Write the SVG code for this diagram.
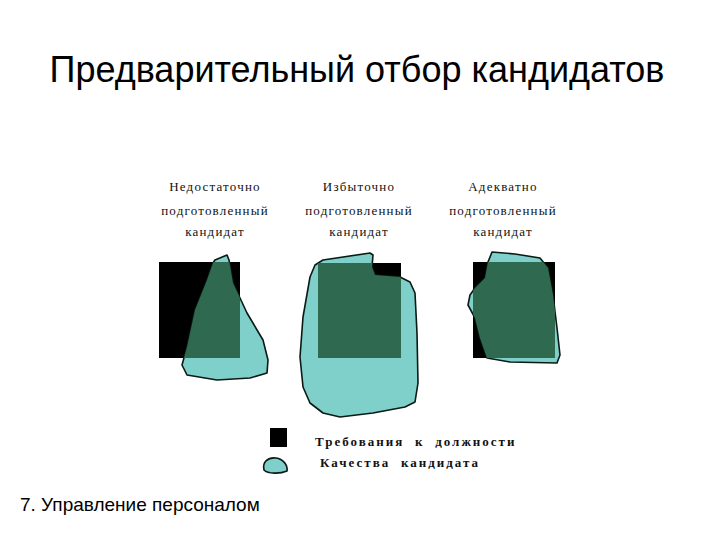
<svg xmlns="http://www.w3.org/2000/svg" width="720" height="540" viewBox="0 0 720 540">
<style>
.title{font-family:"Liberation Sans",Arial,sans-serif;font-size:36px;fill:#000}
.foot{font-family:"Liberation Sans",Arial,sans-serif;font-size:19px;fill:#000}
.lbl{font-family:"Liberation Serif","Times New Roman",serif;font-size:13px;fill:#111;letter-spacing:1.2px;text-anchor:middle}
.leg{font-family:"Liberation Serif","Times New Roman",serif;font-size:13px;fill:#111;letter-spacing:2px;word-spacing:5.5px}
.req{fill:#000}
.blob{fill:#7fcfca;stroke:#0a1a14;stroke-width:1.6;stroke-linejoin:round}
.ovl{fill:#2f6a50}
</style>
<defs>
<path id="b1" d="M215,260 L227,255 L229,260 L233,283 L247,313 L263,340 L268,360 L267,373 L250,378 L217,380 L187,375 L182,365 L187,347 L195,310 L207,280 L213,263 Z"/>
<path id="b2" d="M323,260 L370,253 L373,255 L372,267 L375,275 L400,277 L410,282 L415,293 L417,333 L418,383 L415,402 L405,407 L373,413 L340,417 L323,413 L310,403 L303,387 L300,357 L303,317 L310,277 L315,265 Z"/>
<path id="b3" d="M492,252 L515,254 L540,258 L548,268 L553,295 L557,328 L560,355 L557,363 L510,362 L487,358 L480,338 L475,318 L468,305 L470,295 L475,288 L485,278 L488,262 Z"/>
<clipPath id="c1"><rect x="159" y="262" width="81" height="96"/></clipPath>
<clipPath id="c2"><rect x="318" y="263" width="83" height="95"/></clipPath>
<clipPath id="c3"><rect x="473" y="262" width="82" height="96"/></clipPath>
</defs>
<text class="title" x="357" y="82" text-anchor="middle">Предварительный отбор кандидатов</text>

<g id="candidate-insufficient">
<text class="lbl" x="215" y="191">Недостаточно</text>
<text class="lbl" x="215" y="215">подготовленный</text>
<text class="lbl" x="215" y="236">кандидат</text>
<rect class="req" x="159" y="262" width="81" height="96"/>
<use href="#b1" class="blob"/>
<use href="#b1" class="ovl" clip-path="url(#c1)"/>
</g>

<g id="candidate-excessive">
<text class="lbl" x="359" y="191">Избыточно</text>
<text class="lbl" x="359" y="215">подготовленный</text>
<text class="lbl" x="359" y="236">кандидат</text>
<rect class="req" x="318" y="263" width="83" height="95"/>
<use href="#b2" class="blob"/>
<use href="#b2" class="ovl" clip-path="url(#c2)"/>
</g>

<g id="candidate-adequate">
<text class="lbl" x="503" y="191">Адекватно</text>
<text class="lbl" x="503" y="215">подготовленный</text>
<text class="lbl" x="503" y="236">кандидат</text>
<rect class="req" x="473" y="262" width="82" height="96"/>
<use href="#b3" class="blob"/>
<use href="#b3" class="ovl" clip-path="url(#c3)"/>
</g>

<g id="legend">
<rect class="req" x="270" y="428" width="17" height="19"/>
<text class="leg" x="315" y="446" font-weight="bold">Требования к должности</text>
<path class="blob" d="M264,470 C262,462 268,457 276,458 C283,459 288,465 287,471 C280,474 268,474 264,470 Z"/>
<text class="leg" x="320" y="467" font-weight="bold">Качества кандидата</text>
</g>

<text class="foot" x="20" y="511">7. Управление персоналом</text>
</svg>
